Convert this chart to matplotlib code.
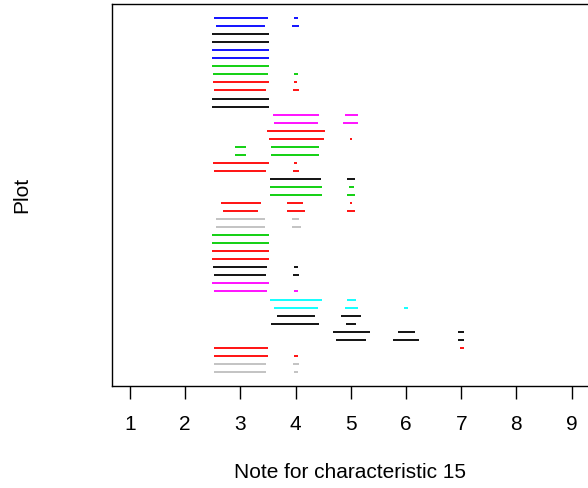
import matplotlib
matplotlib.use("Agg")
import matplotlib.pyplot as plt

plt.rcParams['font.family'] = ['Liberation Sans', 'DejaVu Sans']

# colour of each plot row, top (row 1) to bottom (row 45)
row_colors = ['blue', 'blue', 'black', 'black', 'blue', 'blue', 'green', 'green',
              'red', 'red', 'black', 'black', 'magenta', 'magenta', 'red', 'red',
              'green', 'green', 'red', 'red', 'black', 'green', 'green', 'red',
              'red', 'gray', 'gray', 'green', 'green', 'red', 'red', 'black',
              'black', 'magenta', 'magenta', 'cyan', 'cyan', 'black', 'black',
              'black', 'black', 'red', 'red', 'gray', 'gray']

# segments: row number, start, end
seg_row = [1, 1, 2, 2, 3, 4, 5, 6, 7, 8, 8, 9, 9, 10, 10, 11, 12,
           13, 13, 14, 14, 15, 16, 16, 17, 17, 18, 18, 19, 19, 20, 20,
           21, 21, 22, 22, 23, 23, 24, 24, 24, 25, 25, 25, 26, 26, 27, 27,
           28, 29, 30, 31, 32, 32, 33, 33, 34, 35, 35, 36, 36, 37, 37, 37,
           38, 38, 39, 39, 40, 40, 40, 41, 41, 41, 42, 42, 43, 43, 44, 44,
           45, 45]
seg_x0 = [2.53, 3.97, 2.56, 3.93, 2.48, 2.48, 2.48, 2.48, 2.48, 2.51, 3.97,
          2.51, 3.97, 2.53, 3.95, 2.48, 2.48,
          3.59, 4.89, 3.61, 4.86, 3.49, 3.51, 4.98, 2.91, 3.56, 2.91, 3.56,
          2.50, 3.97, 2.53, 3.95,
          3.54, 4.93, 3.54, 4.96, 3.54, 4.93, 2.65, 3.85, 4.98, 2.69, 3.85,
          4.93, 2.55, 3.93, 2.55, 3.93,
          2.48, 2.48, 2.48, 2.48, 2.50, 3.97, 2.53, 3.95, 2.48, 2.53, 3.97,
          3.54, 4.93, 3.61, 4.89, 5.97,
          3.66, 4.83, 3.56, 4.91, 4.67, 5.85, 6.95, 4.74, 5.77, 6.95, 2.53,
          6.97, 2.53, 3.97, 2.53, 3.95,
          2.53, 3.97]
seg_x1 = [3.50, 4.04, 3.45, 4.07, 3.52, 3.52, 3.52, 3.52, 3.52, 3.50, 4.04,
          3.52, 4.02, 3.47, 4.07, 3.52, 3.52,
          4.43, 5.13, 4.41, 5.13, 4.53, 4.51, 5.03, 3.10, 4.43, 3.10, 4.43,
          3.51, 4.02, 3.47, 4.07,
          4.46, 5.08, 4.48, 5.05, 4.48, 5.08, 3.37, 4.14, 5.03, 3.32, 4.17,
          5.08, 3.44, 4.07, 3.44, 4.09,
          3.51, 3.51, 3.51, 3.51, 3.49, 4.05, 3.47, 4.07, 3.51, 3.49, 4.05,
          4.48, 5.09, 4.41, 5.13, 6.04,
          4.36, 5.18, 4.43, 5.10, 5.35, 6.16, 7.05, 5.28, 6.24, 7.05, 3.50,
          7.05, 3.50, 4.05, 3.47, 4.07,
          3.47, 4.05]

x_ticks = [1, 2, 3, 4, 5, 6, 7, 8, 9]

palette = {'black': '#000000', 'red': '#FF0000', 'green': '#00CD00',
           'blue': '#0000FF', 'cyan': '#00FFFF', 'magenta': '#FF00FF',
           'gray': '#BEBEBE'}

n_rows = len(row_colors)

fig = plt.figure(figsize=(5.88, 4.88), dpi=100)
ax = fig.add_axes([112.3 / 588, 102 / 488, 477 / 588, 382 / 488])

for r, a, b in zip(seg_row, seg_x0, seg_x1):
    y = n_rows + 1 - r
    ax.plot([a, b], [y, y], color=palette[row_colors[r - 1]], lw=1.3,
            solid_capstyle='butt')

ax.set_xlim(0.68, 9.32)
ax.set_ylim(1 - 0.04 * (n_rows - 1), n_rows + 0.04 * (n_rows - 1))
ax.set_xticks(x_ticks)
ax.set_yticks([])
ax.tick_params(axis='x', length=9, width=1, pad=12, labelsize=15)
for s in ax.spines.values():
    s.set_linewidth(1.0)
ax.spines['right'].set_visible(False)

fig.text(350 / 588, 1 - 473 / 488, 'Note for characteristic 15',
         ha='center', va='center', fontsize=15)
fig.text(22 / 588, 1 - 195 / 488, 'Plot', rotation=90,
         ha='center', va='center', fontsize=15)

fig.savefig('out.png', dpi=100)
